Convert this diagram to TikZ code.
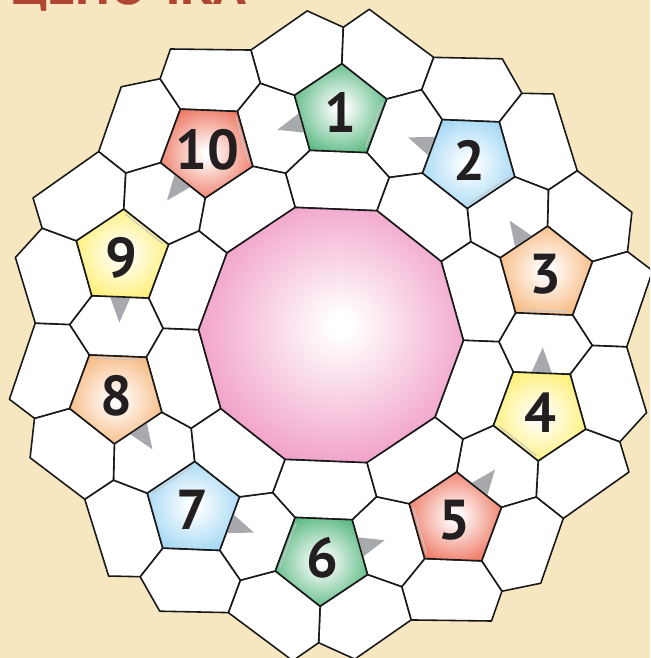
\documentclass[tikz,border=0pt]{standalone}
\usepackage{fontspec}
\setmainfont{PT Sans}
\usepackage{tikz}
\usetikzlibrary{calc}

\definecolor{bgbeige}{RGB}{247,231,193}
\definecolor{titlered}{RGB}{178,68,50}
\definecolor{numblack}{RGB}{35,31,32}
\definecolor{arrowgrey}{RGB}{167,169,172}
\definecolor{decpink}{RGB}{235,122,176}
\definecolor{pgreen}{RGB}{50,168,100}
\definecolor{pblue}{RGB}{140,206,242}
\definecolor{porange}{RGB}{245,168,98}
\definecolor{pyellow}{RGB}{255,236,85}
\definecolor{pred}{RGB}{234,88,62}
\colorlet{pentc}{pgreen}

\pgfdeclareradialshading[pentc]{pentshade}{\pgfpoint{0bp}{0bp}}%
  {color(0bp)=(white); color(2bp)=(white); color(34bp)=(pentc); color(50bp)=(pentc)}
\pgfdeclareradialshading{decshade}{\pgfpoint{2bp}{2bp}}%
  {color(0bp)=(white); color(2bp)=(white); color(37bp)=(decpink); color(50bp)=(decpink)}

\tikzset{
  cell/.style     = {draw=black!90, fill=white, line width=0.9pt, line join=round},
  penta/.style    = {shade, shading=pentshade, draw=black!90,
                     line width=0.9pt, line join=round},
  decagon/.style  = {shade, shading=decshade, draw=black!90,
                     line width=0.9pt, line join=round},
  pointer/.style  = {fill=arrowgrey},
  shine/.style    = {draw=white!55!gray, line width=0.6pt},
  numlabel/.style = {font=\fontsize{32}{32}\selectfont\bfseries,
                     text=numblack, inner sep=0pt},
  title/.style    = {font=\fontsize{31}{31}\selectfont\bfseries,
                     text=titlered, inner sep=0pt},
}

\begin{document}
\begin{tikzpicture}[x=0.02cm, y=0.02cm]

% ------------------------------------------------------------
%  frame: 650 x 658 px, centre of the ring at (0,0)
% ------------------------------------------------------------
\useasboundingbox (-331,-323) rectangle (319,335);
\fill[bgbeige] (-331,-323) rectangle (319,335);
\clip (-331,-323) rectangle (319,335);

% title, cut off by the top edge
\node[title, anchor=base west] (title) at (-321,330) {ЦЕПОЧКА};

% ------------------------------------------------------------
%  points of the ten sectors (pentagon k sits on axis 90 deg)
% ------------------------------------------------------------
\foreach \k in {1,...,10}{
  \begin{scope}[rotate={-2.3-36*(\k-1)}]
    % pentagon
    \coordinate (pm\k) at (0,223);
    \coordinate (pa\k) at (0,271.5);
    \coordinate (pb\k) at (46.13,238.0);
    \coordinate (pc\k) at (28.51,183.76);
    \coordinate (pd\k) at (-28.51,183.76);
    \coordinate (pe\k) at (-46.13,238.0);
    % axis towards the next pentagon
    \coordinate (dv\k) at (72:132.5);
    \coordinate (io\k) at (72:168);
    \coordinate (jt\k) at (72:261.5);
    \coordinate (ao\k) at (72:296);
    % rim
    \coordinate (no\k) at (90:308);
    \coordinate (bl\k) at (96.5:325);
    \coordinate (br\k) at (85.6:328);
    % grey pointer and pale edge
    \coordinate (tp\k) at (-61.8,202.9);
    \coordinate (ta\k) at (-24.6,233.9);
    \coordinate (tb\k) at (-13.5,199.7);
    \coordinate (hb\k) at (41.9,234.6);
    \coordinate (hc\k) at (27.1,189.0);
  \end{scope}
}

% ------------------------------------------------------------
%  white cells
% ------------------------------------------------------------
\foreach \k in {1,...,10}{
  \pgfmathtruncatemacro{\j}{mod(\k+8,10)+1}
  \pgfmathtruncatemacro{\n}{mod(\k,10)+1}
  \draw[cell] (pe\k) -- (jt\j) -- (ao\j) -- (bl\k) -- (no\k) -- (pa\k) -- cycle;
  \draw[cell] (pa\k) -- (no\k) -- (br\k) -- (ao\k) -- (jt\k) -- (pb\k) -- cycle;
  \draw[cell] (pb\k) -- (jt\k) -- (pe\n) -- (pd\n) -- (io\k) -- (pc\k) -- cycle;
  \draw[cell] (pd\k) -- (io\j) -- (dv\j) -- (dv\k) -- (io\k) -- (pc\k) -- cycle;
}

% centre
\path[decagon] (dv1) -- (dv2) -- (dv3) -- (dv4) -- (dv5)
  -- (dv6) -- (dv7) -- (dv8) -- (dv9) -- (dv10) -- cycle;

% ------------------------------------------------------------
%  numbered pentagons
% ------------------------------------------------------------
\foreach \k/\col in {1/pgreen, 2/pblue, 3/porange, 4/pyellow, 5/pred,
                     6/pgreen, 7/pblue, 8/porange, 9/pyellow, 10/pred}{
  \colorlet{pentc}{\col}
  \fill[pointer] (tp\k) -- (ta\k) -- (tb\k) -- cycle;
  \path[penta] (pa\k) -- (pb\k) -- (pc\k) -- (pd\k) -- (pe\k) -- cycle;
  \draw[shine] (hb\k) -- (hc\k);
  \node[numlabel] (n\k) at (pm\k) {\k};
}

\end{tikzpicture}
\end{document}
